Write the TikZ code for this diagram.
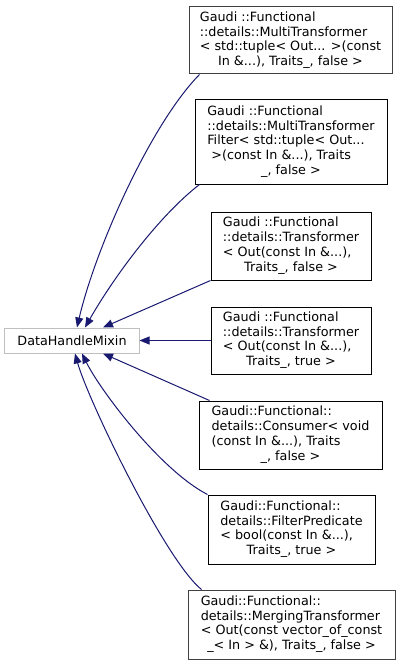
\documentclass[tikz,border=0pt]{standalone}
\usepackage{fontspec}
\setmainfont{DejaVu Sans}
\usetikzlibrary{arrows.meta}
\definecolor{edgeblue}{HTML}{191970}
\definecolor{basegray}{HTML}{BFBFBF}
\definecolor{boxgray}{HTML}{404040}
\newcommand{\lbl}[2]{\begin{tabular}{@{}l@{}}#1\\\multicolumn{1}{@{}c@{}}{#2}\end{tabular}}
\begin{document}
\begin{tikzpicture}[x=1bp,y=-1bp,
  cls/.style={draw=black, line width=1bp, inner sep=0pt, fill=white,
    font=\fontsize{12.8}{15}\selectfont},
  edge/.style={draw=edgeblue, line width=1bp, -{Triangle[length=10bp,width=8bp]}}]
\useasboundingbox (0,0) rectangle (400,665);

\node[cls, draw=basegray, minimum width=134bp, minimum height=25bp] (base) at (72,340.5) {DataHandleMixin};

\node[cls, draw=boxgray, minimum width=203bp, minimum height=67bp] (b1) at (290.5,40.5)
  {\lbl{Gaudi ::Functional\\::details::MultiTransformer\\< std::tuple< Out... >(const}{In \&...), Traits\_, false >}};
\node[cls, minimum width=192bp, minimum height=84bp] (b2) at (291,142)
  {\lbl{Gaudi ::Functional\\::details::MultiTransformer\\Filter< std::tuple< Out...\\\ >(const In \&...), Traits}{\_, false >}};
\node[cls, minimum width=160bp, minimum height=68bp] (b3) at (291,246)
  {\lbl{Gaudi ::Functional\\::details::Transformer\\< Out(const In \&...),}{Traits\_, false >}};
\node[cls, minimum width=160bp, minimum height=67bp] (b4) at (291,340.5)
  {\lbl{Gaudi ::Functional\\::details::Transformer\\< Out(const In \&...),}{Traits\_, true >}};
\node[cls, minimum width=183bp, minimum height=68bp] (b5) at (290.5,435)
  {\lbl{Gaudi::Functional::\\details::Consumer< void\\(const In \&...), Traits}{\_, false >}};
\node[cls, minimum width=167bp, minimum height=69bp] (b6) at (291.5,529.5)
  {\lbl{Gaudi::Functional::\\details::FilterPredicate\\< bool(const In \&...),}{Traits\_, true >}};
\node[cls, draw=boxgray, minimum width=207bp, minimum height=69bp] (b7) at (291.5,624.5)
  {\lbl{Gaudi::Functional::\\details::MergingTransformer\\< Out(const vector\_of\_const}{\_< In > \&), Traits\_, false >}};

\draw[edge] ([xshift=11bp]b1.south west) .. controls (150,125) and (95,250) .. ([xshift=5bp]base.north);
\draw[edge] ([xshift=5bp]b2.south west) .. controls (160,215) and (115,275) .. ([xshift=13bp]base.north);
\draw[edge] (b3.south west) -- ([xshift=31bp]base.north);
\draw[edge] (b4.west) -- (base.east);
\draw[edge] ([xshift=11bp]b5.north west) -- ([xshift=31bp]base.south);
\draw[edge] (b6.north west) .. controls (160,470) and (100,390) .. ([xshift=10bp]base.south);
\draw[edge] ([xshift=14bp]b7.north west) .. controls (165,560) and (88,400) .. ([xshift=3bp]base.south);
\end{tikzpicture}
\end{document}
